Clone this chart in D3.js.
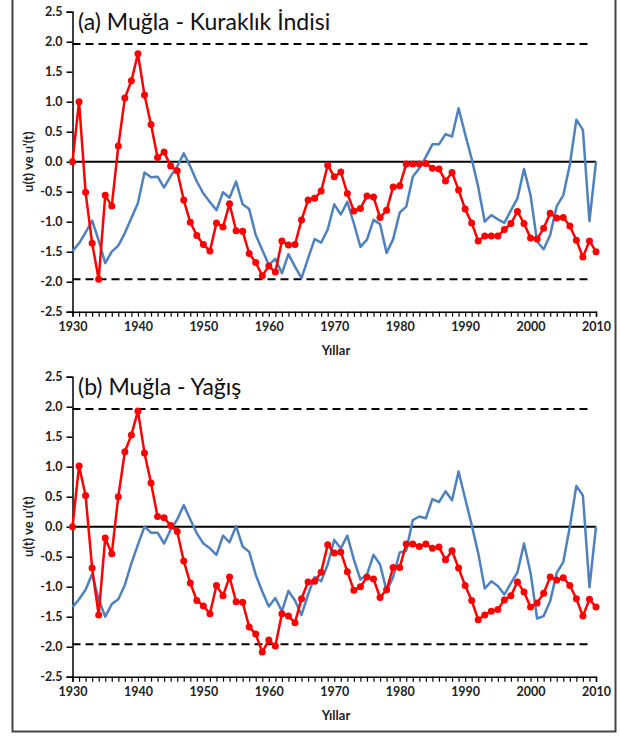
<!DOCTYPE html>
<html>
<head>
<meta charset="utf-8">
<script src="https://cdn.jsdelivr.net/npm/d3@7"></script>
<style>
  body { margin: 0; background: #fff; }
  svg { display: block; }
  text { font-family: Lato, "Open Sans", sans-serif; }
</style>
</head>
<body>
<div id="chart"></div>
<script>
// years 1930..2010
var years = d3.range(1930, 2011);

// (a) Kuraklık İndisi
var droughtU = [0.00, 1.00, -0.51, -1.36, -1.96, -0.56, -0.74, 0.26, 1.06, 1.35,
    1.80, 1.11, 0.62, 0.07, 0.16, -0.07, -0.15, -0.64, -1.01, -1.23,
    -1.38, -1.49, -1.02, -1.09, -0.70, -1.15, -1.16, -1.53, -1.68, -1.90,
    -1.74, -1.84, -1.32, -1.39, -1.38, -0.97, -0.64, -0.61, -0.49, -0.06,
    -0.25, -0.17, -0.53, -0.82, -0.78, -0.57, -0.59, -0.93, -0.81, -0.42,
    -0.40, -0.04, -0.04, -0.04, -0.03, -0.11, -0.12, -0.32, -0.18, -0.47,
    -0.79, -1.02, -1.32, -1.24, -1.24, -1.24, -1.13, -1.03, -0.83, -1.03,
    -1.27, -1.29, -1.11, -0.86, -0.94, -0.93, -1.07, -1.31, -1.59, -1.32,
    -1.50];
var droughtUp = [-1.49, -1.36, -1.18, -0.98, -1.31, -1.69, -1.50, -1.40, -1.19, -0.94,
    -0.69, -0.18, -0.26, -0.25, -0.43, -0.24, -0.08, 0.14, -0.08, -0.33,
    -0.53, -0.67, -0.81, -0.51, -0.60, -0.33, -0.71, -0.79, -1.22, -1.47,
    -1.72, -1.62, -1.86, -1.54, -1.75, -1.94, -1.61, -1.29, -1.35, -1.13,
    -0.71, -0.88, -0.67, -1.03, -1.42, -1.30, -0.97, -1.04, -1.52, -1.29,
    -0.85, -0.75, -0.25, -0.11, 0.08, 0.29, 0.29, 0.46, 0.42, 0.89,
    0.46, 0.05, -0.42, -1.00, -0.89, -0.96, -1.02, -0.81, -0.61, -0.12,
    -0.56, -1.33, -1.46, -1.22, -0.74, -0.56, -0.05, 0.70, 0.53, -0.99,
    0.00];

// (b) Yağış
var rainU = [0.00, 1.01, 0.52, -0.69, -1.47, -0.19, -0.45, 0.50, 1.25, 1.53,
    1.93, 1.23, 0.73, 0.17, 0.15, 0.02, -0.08, -0.57, -0.94, -1.23,
    -1.32, -1.45, -0.98, -1.15, -0.84, -1.25, -1.26, -1.67, -1.79, -2.09,
    -1.89, -1.99, -1.45, -1.49, -1.60, -1.20, -0.92, -0.91, -0.76, -0.30,
    -0.44, -0.42, -0.75, -1.06, -1.00, -0.84, -0.87, -1.18, -1.05, -0.68,
    -0.68, -0.29, -0.29, -0.33, -0.29, -0.36, -0.34, -0.55, -0.40, -0.69,
    -0.98, -1.23, -1.55, -1.47, -1.41, -1.38, -1.22, -1.15, -0.92, -1.09,
    -1.34, -1.27, -1.11, -0.84, -0.89, -0.85, -0.98, -1.20, -1.49, -1.21,
    -1.34];
var rainUp = [-1.34, -1.21, -1.05, -0.79, -1.21, -1.50, -1.29, -1.21, -0.97, -0.61,
    -0.30, 0.00, -0.10, -0.10, -0.28, -0.05, 0.12, 0.36, 0.12, -0.11,
    -0.28, -0.36, -0.47, -0.15, -0.26, 0.01, -0.33, -0.42, -0.80, -1.08,
    -1.33, -1.19, -1.41, -1.07, -1.23, -1.47, -1.13, -0.84, -0.91, -0.63,
    -0.22, -0.36, -0.15, -0.55, -0.88, -0.80, -0.47, -0.63, -1.07, -0.84,
    -0.43, -0.40, 0.11, 0.17, 0.14, 0.46, 0.41, 0.59, 0.44, 0.92,
    0.47, 0.03, -0.44, -1.03, -0.91, -0.99, -1.13, -0.94, -0.76, -0.28,
    -0.77, -1.53, -1.49, -1.24, -0.77, -0.59, 0.00, 0.68, 0.52, -1.01,
    0.00];

var yTicks = [-2.5, -2.0, -1.5, -1.0, -0.5, 0.0, 0.5, 1.0, 1.5, 2.0, 2.5];
var xLabels = [1930, 1940, 1950, 1960, 1970, 1980, 1990, 2000, 2010];
var critical = 1.96;

var panels = [
    { title: "(a) Muğla - Kuraklık İndisi", u: droughtU, up: droughtUp, top: 11.7 },
    { title: "(b) Muğla - Yağış", u: rainU, up: rainUp, top: 376.7 }
];

var W = 620, H = 736;
var svg = d3.select("#chart").append("svg")
    .attr("width", W).attr("height", H);

// outer frame
svg.append("rect")
    .attr("x", 12.5).attr("y", -2).attr("width", 603).attr("height", 733.5)
    .attr("fill", "none").attr("stroke", "#444").attr("stroke-width", 2);

var x = d3.scaleLinear().domain([1930, 2010]).range([72.5, 596]);

panels.forEach(function (p) {
    var y = d3.scaleLinear().domain([-2.5, 2.5]).range([p.top + 300, p.top]);
    var g = svg.append("g");

    // y axis
    var yAxis = d3.axisLeft(y).tickValues(yTicks).tickSize(6).tickPadding(4)
        .tickFormat(function (d) { return d3.format(".1f")(d).replace("−", "-"); });
    var ya = g.append("g").attr("transform", "translate(" + x(1930) + ",0)").call(yAxis);
    ya.select(".domain").attr("stroke", "#000").attr("stroke-width", 1.5);
    ya.selectAll(".tick line").attr("stroke", "#000").attr("stroke-width", 1.5);
    ya.selectAll(".tick text")
        .attr("font-size", 12.5).attr("font-weight", "bold").attr("fill", "#222")
        .style("font-family", "Lato, sans-serif");

    // x axis - ticks each year
    var xAxis = d3.axisBottom(x).tickValues(years).tickSize(5).tickPadding(5)
        .tickFormat(function (d) { return xLabels.indexOf(d) >= 0 ? d : ""; });
    var xa = g.append("g").attr("transform", "translate(0," + y(-2.5) + ")").call(xAxis);
    xa.select(".domain").attr("stroke", "#000").attr("stroke-width", 1.5);
    xa.selectAll(".tick line").attr("stroke", "#000").attr("stroke-width", 1.2);
    xa.selectAll(".tick text")
        .attr("font-size", 12.5).attr("font-weight", "bold").attr("fill", "#222")
        .style("font-family", "Lato, sans-serif");

    // axis titles
    g.append("text")
        .attr("transform", "translate(33," + y(0) + ") rotate(-90)")
        .attr("text-anchor", "middle")
        .attr("font-size", 13).attr("font-weight", "bold").attr("fill", "#222")
        .text("u(t) ve u'(t)");
    g.append("text")
        .attr("x", 336).attr("y", y(-2.5) + 43)
        .attr("text-anchor", "middle")
        .attr("font-size", 13).attr("font-weight", "bold").attr("fill", "#222")
        .text("Yıllar");

    // title
    g.append("text")
        .attr("x", 78).attr("y", p.top + 18)
        .attr("font-size", 23).attr("fill", "#111")
        .text(p.title);

    // reference lines
    [critical, -critical].forEach(function (c) {
        g.append("line")
            .attr("x1", x(1930)).attr("x2", x(2009.2))
            .attr("y1", y(c)).attr("y2", y(c))
            .attr("stroke", "#000").attr("stroke-width", 2)
            .attr("stroke-dasharray", "8,5");
    });
    g.append("line")
        .attr("x1", x(1930)).attr("x2", x(2010))
        .attr("y1", y(0)).attr("y2", y(0))
        .attr("stroke", "#000").attr("stroke-width", 2);

    var line = d3.line()
        .x(function (d, i) { return x(years[i]); })
        .y(function (d) { return y(d); });

    // u'(t) blue
    g.append("path")
        .datum(p.up)
        .attr("fill", "none").attr("stroke", "#4F81BD").attr("stroke-width", 2.5)
        .attr("stroke-linejoin", "round")
        .attr("d", line);

    // u(t) red with markers
    g.append("path")
        .datum(p.u)
        .attr("fill", "none").attr("stroke", "#FF0000").attr("stroke-width", 2.5)
        .attr("stroke-linejoin", "round")
        .attr("d", line);
    g.append("g").selectAll("circle")
        .data(p.u)
        .enter().append("circle")
        .attr("cx", function (d, i) { return x(years[i]); })
        .attr("cy", function (d) { return y(d); })
        .attr("r", 3.5)
        .attr("fill", "#FF0000");
});
</script>
</body>
</html>
